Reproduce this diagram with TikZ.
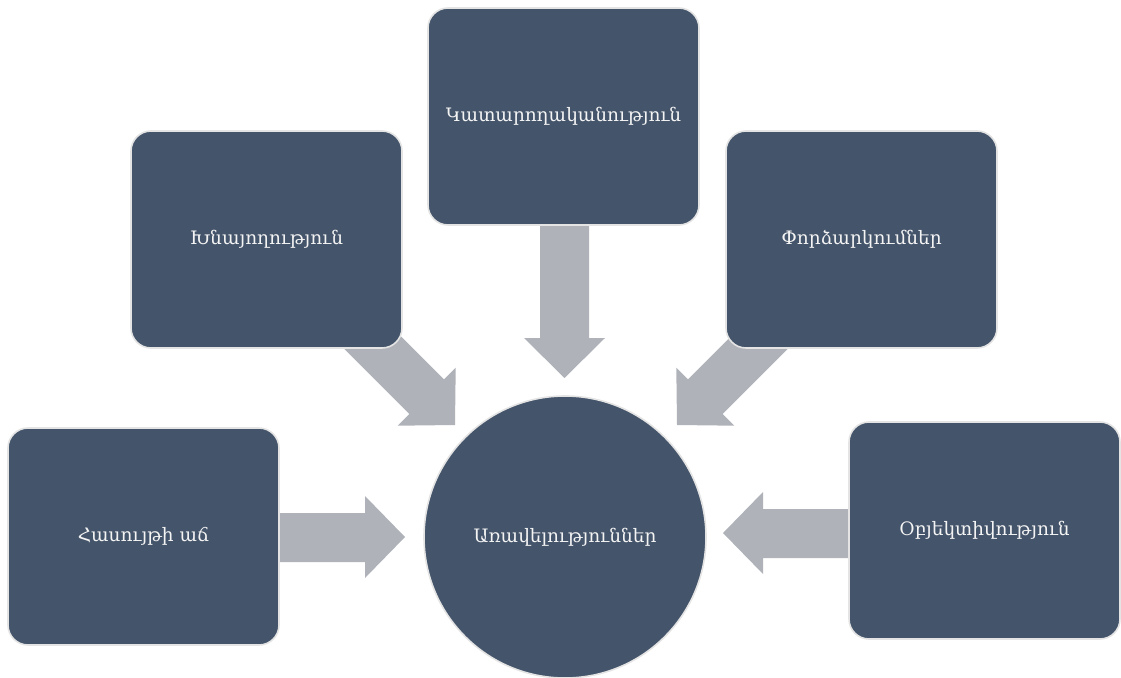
\documentclass[tikz,border=0pt]{standalone}
\usepackage{fontspec}
\setmainfont{DejaVu Serif}
\definecolor{boxfill}{HTML}{44546A}
\definecolor{boxline}{HTML}{E4E4E4}
\definecolor{arrowfill}{HTML}{AFB2B9}
\definecolor{txt}{HTML}{F4F4F4}
\begin{document}
\begin{tikzpicture}[x=1pt,y=-1pt,
  card/.style={draw=boxline, line width=1.6pt, fill=boxfill, rounded corners=20pt,
    minimum width=271pt, minimum height=217pt, text=txt, font=\fontsize{18.5}{22}\selectfont, inner sep=0pt},
  hub/.style={circle, draw=boxline, line width=1.6pt, fill=boxfill, minimum size=282pt,
    text=txt, font=\fontsize{18.5}{22}\selectfont, inner sep=0pt},
  blockarrow/.style={fill=arrowfill, draw=none}]
\useasboundingbox (0,0) rectangle (1121,677);
% arrows (drawn beneath the boxes)
\fill[blockarrow] (540,200) -- (589,200) -- (589,338) -- (605,338) -- (564.5,378) -- (524,338) -- (540,338) -- cycle;
\fill[blockarrow] (260,513) -- (365,513) -- (365,496) -- (405,537) -- (365,578) -- (365,562) -- (260,562) -- cycle;
\fill[blockarrow] (870,509) -- (763,509) -- (763,492) -- (723,533) -- (763,574) -- (763,558) -- (870,558) -- cycle;
\fill[blockarrow] (359.1,294.5) -- (444.0,379.4) -- (455.7,367.7) -- (455,425) -- (397.7,425.7) -- (409.4,414.0) -- (324.5,329.1) -- cycle;
\fill[blockarrow] (772.9,294.5) -- (688.0,379.4) -- (676.3,367.7) -- (677,425) -- (734.3,425.7) -- (722.6,414.0) -- (807.5,329.1) -- cycle;
% boxes
\node[card] (top) at (563.5,116.5) {Կատարողականություն};
\node[card] (ul) at (266.5,239.5) {Խնայողություն};
\node[card] (ur) at (861.5,239.5) {Փորձարկումներ};
\node[card] (ll) at (143.5,536.5) {Հասույթի աճ};
\node[card] (lr) at (984.5,530.5) {Օբյեկտիվություն};
\node[hub] (c) at (565,537) {Առավելություններ};
\end{tikzpicture}
\end{document}
